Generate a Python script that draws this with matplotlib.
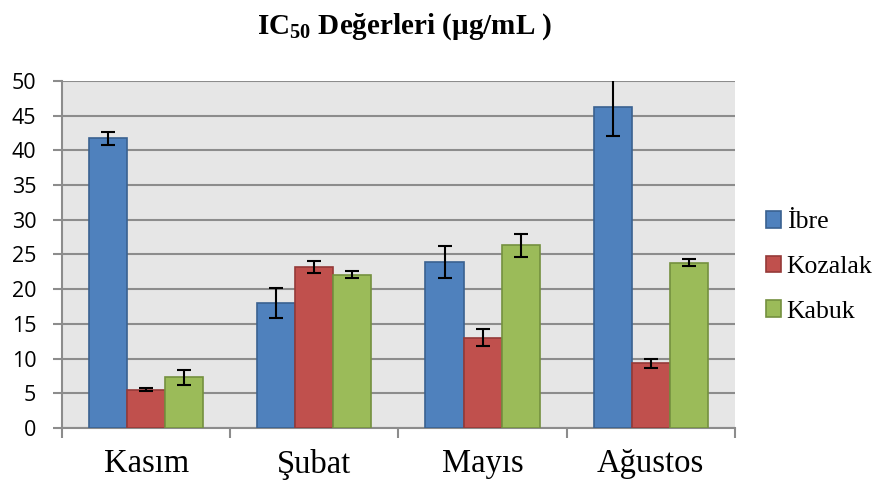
import matplotlib
matplotlib.use("Agg")
import matplotlib.pyplot as plt
import numpy as np

# data
months = ["Kasım", "Şubat", "Mayıs", "Ağustos"]
series = ["İbre", "Kozalak", "Kabuk"]
ibre = [41.7, 18.0, 23.9, 46.2]
ibre_err = [1.0, 2.2, 2.3, 4.2]
kozalak = [5.5, 23.2, 13.0, 9.3]
kozalak_err = [0.2, 0.8, 1.2, 0.6]
kabuk = [7.3, 22.1, 26.3, 23.8]
kabuk_err = [1.1, 0.5, 1.7, 0.5]

colors = ["#4f81bd", "#c0504d", "#9bbb59"]
edges = ["#3a6190", "#953a38", "#74903f"]

plt.rcParams["mathtext.fontset"] = "custom"
plt.rcParams["mathtext.rm"] = "Liberation Serif"
plt.rcParams["mathtext.bf"] = "Liberation Serif:bold"

fig = plt.figure(figsize=(8.8, 4.87), dpi=100)
ax = fig.add_axes([0.0705, 0.121, 0.7645, 0.713])
ax.set_facecolor("#e6e6e6")

x = np.arange(len(months))
w = 0.226
vals = [ibre, kozalak, kabuk]
errs = [ibre_err, kozalak_err, kabuk_err]
for i in range(3):
    ax.bar(x + (i - 1) * w, vals[i], w, color=colors[i], edgecolor=edges[i],
           linewidth=1.2, label=series[i], zorder=3)
    ax.errorbar(x + (i - 1) * w, vals[i], yerr=errs[i], fmt="none",
                ecolor="black", elinewidth=1.5, capsize=5, capthick=1.5, zorder=4)

ax.set_xlim(-0.5, 3.5)
ax.set_ylim(0, 50)
ax.set_yticks(range(0, 51, 5))
ax.yaxis.grid(True, color="#8c8c8c", linewidth=1.5, zorder=0)
ax.set_axisbelow(True)

# category labels centered, tick marks between groups
ax.set_xticks(x)
ax.set_xticklabels(months, fontsize=23.5, family="Liberation Serif")
ax.tick_params(axis="x", length=0, pad=15)
ax.set_xticks(np.arange(-0.5, 4.0, 1.0), minor=True)
ax.tick_params(axis="x", which="minor", length=7, width=1.5, color="#8c8c8c")
ax.tick_params(axis="y", length=6.5, width=1.5, color="#8c8c8c", labelsize=15.5, pad=12)
for lab in ax.get_yticklabels():
    lab.set_family("Open Sans")

for s in ["top", "right"]:
    ax.spines[s].set_visible(False)
ax.spines["left"].set_color("#8c8c8c")
ax.spines["bottom"].set_color("#8c8c8c")
ax.spines["left"].set_linewidth(1.5)
ax.spines["bottom"].set_linewidth(1.5)

fig.text(0.46, 0.945, r"$\mathbf{IC_{50}}$ Değerleri (µg/mL )", ha="center", va="center",
         fontsize=21, fontweight="bold", family="Liberation Serif")

ax.legend(loc="center left", bbox_to_anchor=(1.012, 0.464), frameon=False,
          prop={"family": "Liberation Serif", "size": 18.5},
          handlelength=0.6, handleheight=0.6, handletextpad=0.2, labelspacing=0.87)

fig.savefig("out.png", dpi=100)
